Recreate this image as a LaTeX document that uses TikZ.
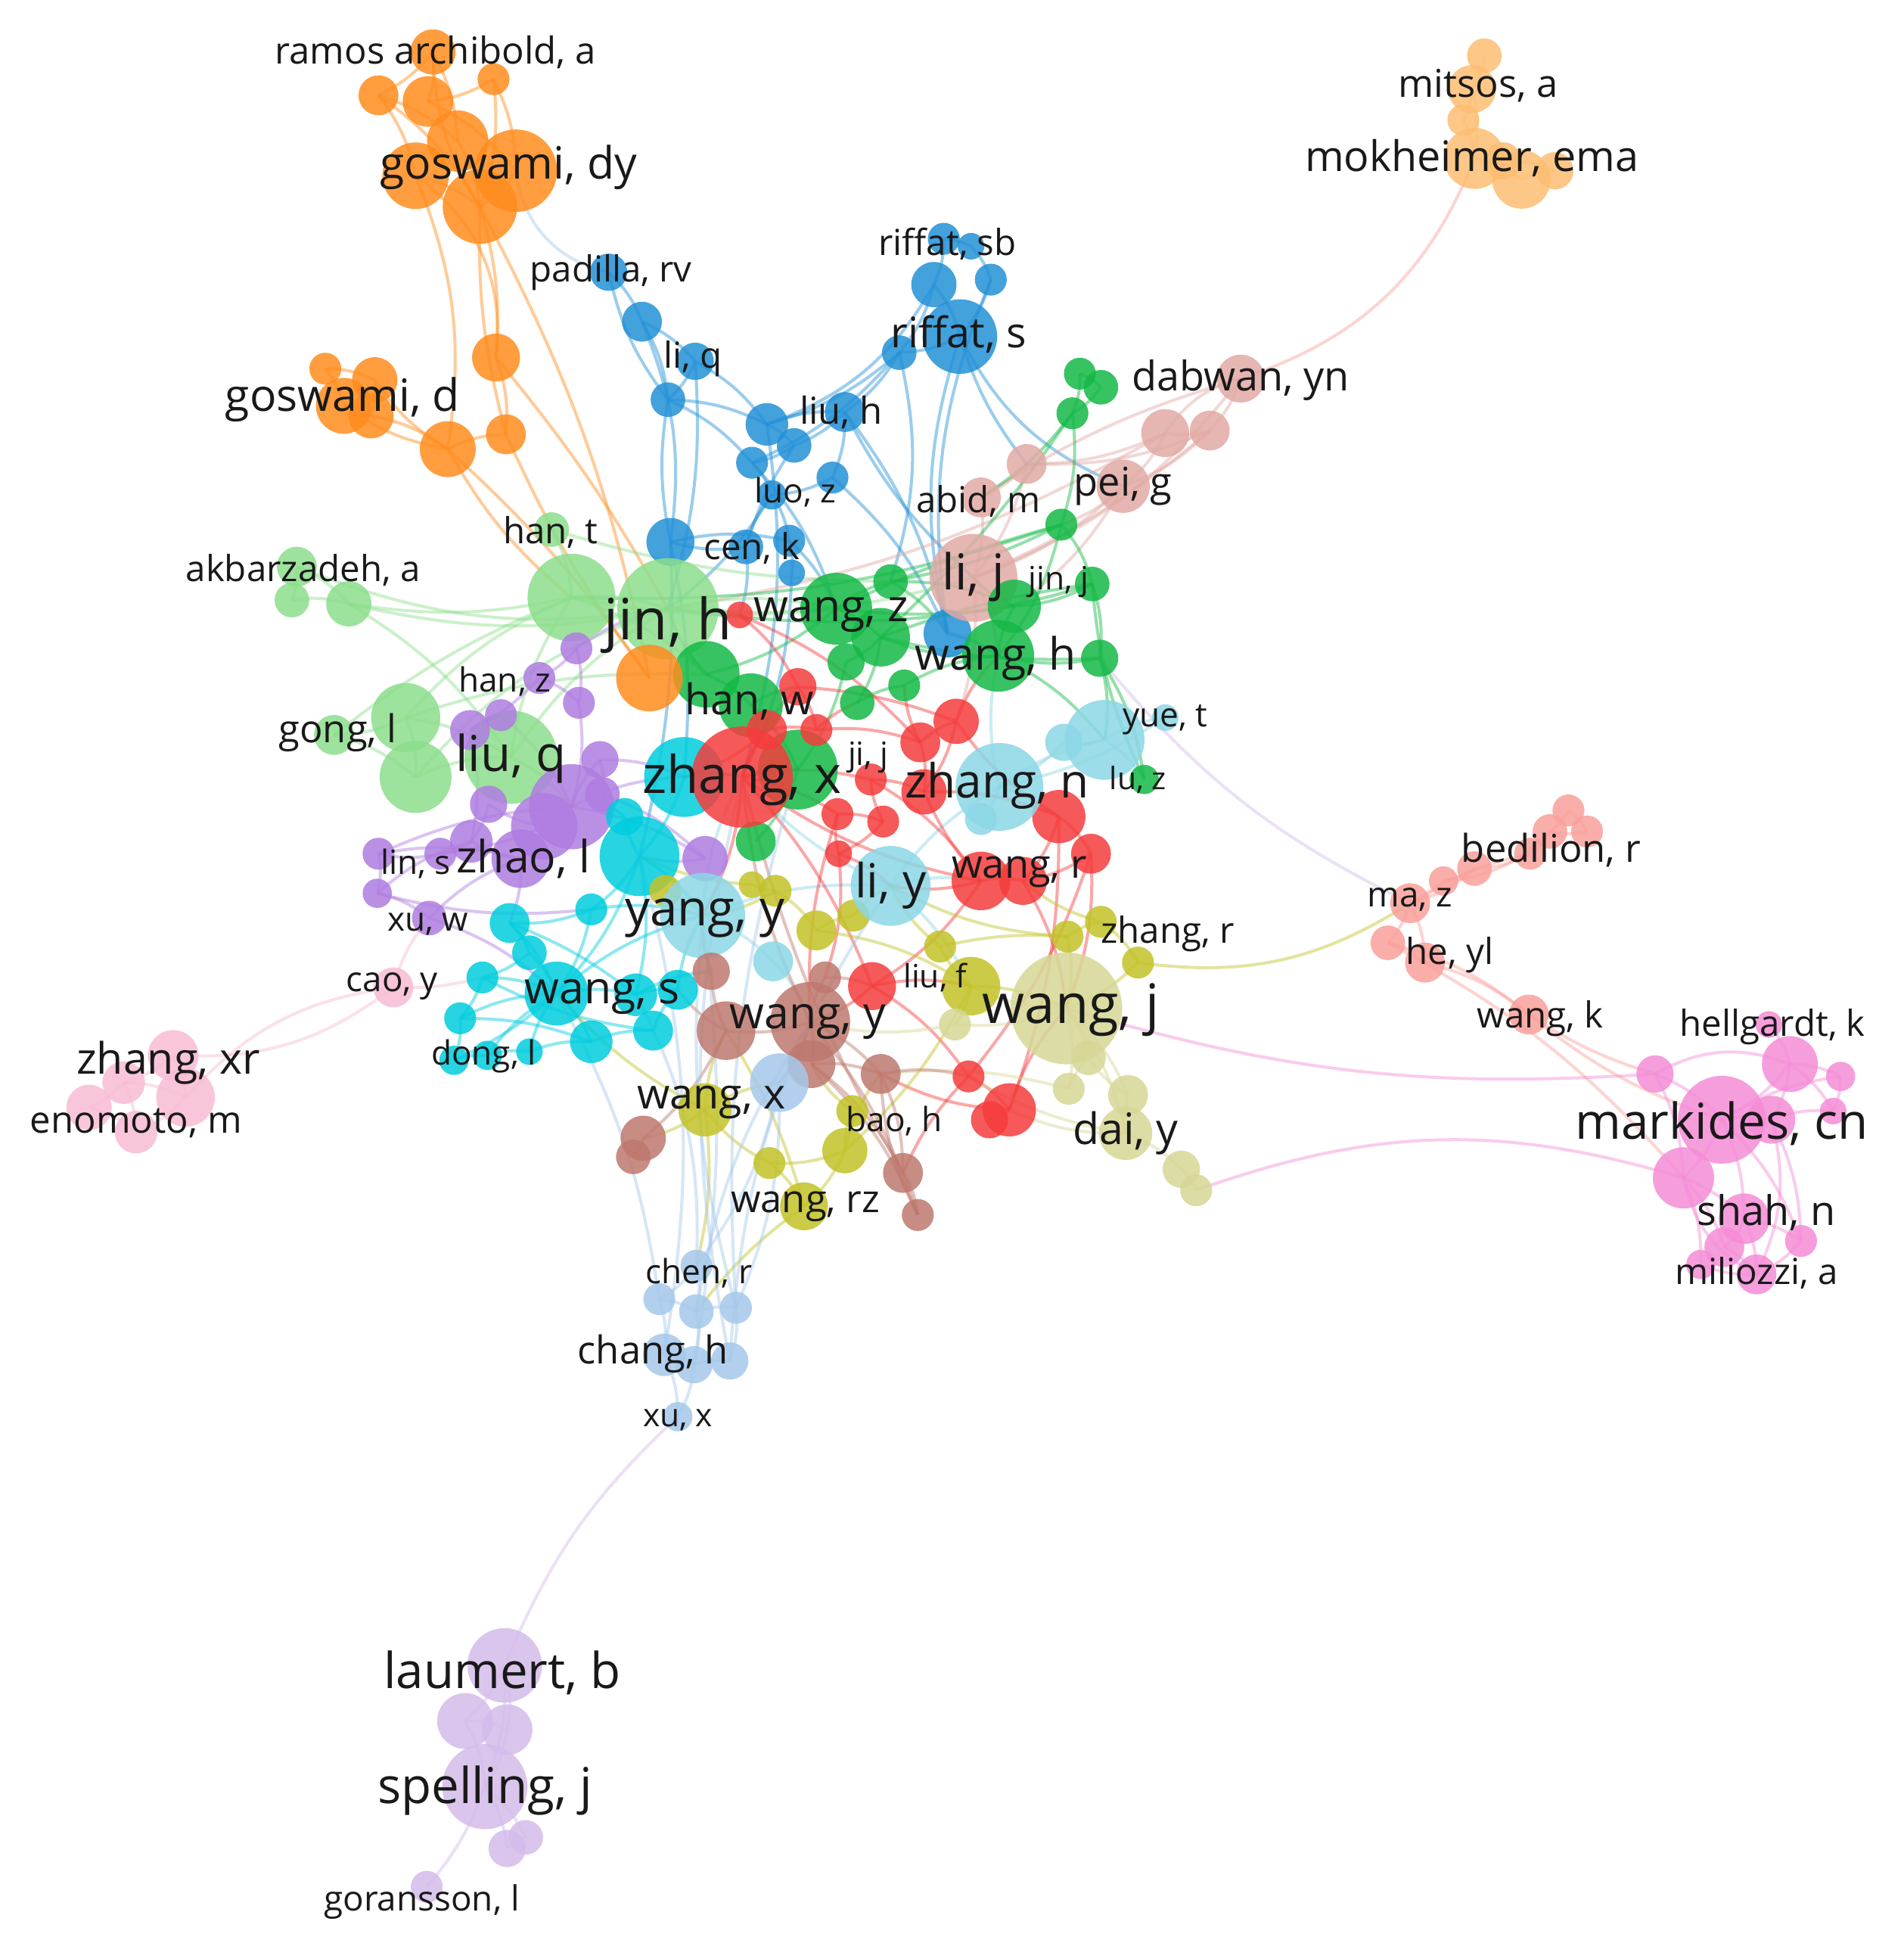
\documentclass[tikz,border=0pt]{standalone}
\usepackage{fontspec}
\setmainfont{Open Sans}
\pgfdeclarelayer{bglayer}
\pgfdeclarelayer{edgelayer}
\pgfsetlayers{bglayer,edgelayer,main}
\definecolor{cOr}{RGB}{255,140,30}
\definecolor{cPe}{RGB}{253,190,115}
\definecolor{cBl}{RGB}{35,145,215}
\definecolor{cGr}{RGB}{20,185,70}
\definecolor{cLg}{RGB}{140,222,140}
\definecolor{cPu}{RGB}{175,125,225}
\definecolor{cCy}{RGB}{0,205,222}
\definecolor{cLc}{RGB}{140,215,230}
\definecolor{cRd}{RGB}{245,60,60}
\definecolor{cOl}{RGB}{195,195,40}
\definecolor{cLo}{RGB}{215,215,150}
\definecolor{cBr}{RGB}{190,120,110}
\definecolor{cLb}{RGB}{165,200,235}
\definecolor{cSa}{RGB}{250,160,155}
\definecolor{cPk}{RGB}{245,140,215}
\definecolor{cLp}{RGB}{248,188,212}
\definecolor{cLv}{RGB}{212,188,235}
\definecolor{cRo}{RGB}{225,170,165}
\definecolor{cTx}{RGB}{25,25,25}
\tikzset{
  vnode/.style={circle,draw=none,inner sep=0pt,fill opacity=0.85},
  edge/.style={line width=0.7pt,draw opacity=0.45},
  lbl/.style={inner sep=0pt,text=cTx}
}
\newcommand\vn[5]{\node[vnode,fill=#5,minimum size=#4*0.0215cm] (#1) at (#2,-#3) {};}
\newcommand\E[4][12]{\draw[edge,draw=#4] (#2.center) to[bend left=#1] (#3.center);}
\newcommand\lab[5]{\node[lbl,font=\fontsize{\dimexpr #4pt*2845/10000\relax}{\dimexpr #4pt*3/10\relax}\selectfont] (#1) at (#2,-#3) {#5};}
\begin{document}
\begin{tikzpicture}[x=0.01cm,y=0.01cm]
\begin{pgfonlayer}{bglayer}
\fill[white] (0,0) rectangle (1539,-1568);
\end{pgfonlayer}
\useasboundingbox (0,0) rectangle (1539,-1568);
% ---------------- nodes ----------------
% orange
\vn{o1}{350}{42}{17}{cOr}\vn{o2}{399}{64}{12}{cOr}\vn{o3}{306}{77}{15}{cOr}
\vn{o4}{346}{82}{19}{cOr}\vn{o5}{370}{114}{23}{cOr}\vn{o6}{336}{142}{25}{cOr}
\vn{o7}{417}{138}{31}{cOr}\vn{o8}{388}{167}{28}{cOr}\vn{o9}{401}{289}{18}{cOr}
\vn{o10}{409}{351}{15}{cOr}\vn{o11}{362}{363}{21}{cOr}\vn{o12}{263}{298}{12}{cOr}
\vn{o13}{303}{307}{17}{cOr}\vn{o14}{278}{328}{21}{cOr}\vn{o15}{300}{336}{17}{cOr}
% peach
\vn{m1}{1200}{45}{13}{cPe}\vn{m2}{1190}{72}{18}{cPe}\vn{m3}{1183}{97}{12}{cPe}
\vn{m4}{1192}{128}{23}{cPe}\vn{m5}{1230}{145}{22}{cPe}\vn{m6}{1257}{138}{14}{cPe}
\vn{m7}{1215}{130}{14}{cPe}
% blue
\vn{b1}{763}{193}{12}{cBl}\vn{b2}{785}{199}{10}{cBl}\vn{b3}{801}{226}{12}{cBl}
\vn{b4}{755}{230}{17}{cBl}\vn{b5}{776}{272}{28}{cBl}\vn{b6}{727}{285}{13}{cBl}
\vn{b7}{492}{220}{14}{cBl}\vn{b8}{519}{260}{15}{cBl}\vn{b9}{562}{292}{14}{cBl}
\vn{b10}{540}{323}{13}{cBl}\vn{b11}{620}{343}{16}{cBl}\vn{b12}{683}{333}{15}{cBl}
\vn{b13}{642}{360}{13}{cBl}\vn{b14}{608}{374}{12}{cBl}\vn{b15}{673}{386}{12}{cBl}
\vn{b16}{624}{400}{11}{cBl}\vn{b17}{542}{438}{18}{cBl}\vn{b18}{638}{437}{12}{cBl}
\vn{b19}{640}{463}{10}{cBl}\vn{b20}{766}{512}{18}{cBl}\vn{b21}{603}{442}{13}{cBl}
% rose
\vn{q1}{1003}{306}{18}{cRo}\vn{q2}{978}{348}{15}{cRo}\vn{q3}{942}{350}{18}{cRo}
\vn{q4}{830}{375}{15}{cRo}\vn{q5}{908}{393}{20}{cRo}\vn{q6}{793}{402}{15}{cRo}
\vn{q7}{787}{467}{33}{cRo}
% light green
\vn{lg1}{240}{458}{15}{cLg}\vn{lg2}{236}{485}{13}{cLg}\vn{lg3}{282}{488}{17}{cLg}
\vn{lg4}{446}{428}{13}{cLg}\vn{lg5}{462}{483}{33}{cLg}\vn{lg6}{540}{492}{38}{cLg}
\vn{lg7}{328}{580}{26}{cLg}\vn{lg8}{270}{594}{15}{cLg}\vn{lg9}{336}{628}{27}{cLg}
\vn{lg10}{413}{612}{35}{cLg}
% purple
\vn{p1}{466}{524}{12}{cPu}\vn{p2}{436}{548}{12}{cPu}\vn{p3}{468}{568}{12}{cPu}
\vn{p4}{380}{590}{15}{cPu}\vn{p5}{405}{578}{12}{cPu}\vn{p6}{462}{652}{32}{cPu}
\vn{p7}{440}{668}{25}{cPu}\vn{p8}{421}{694}{22}{cPu}\vn{p9}{381}{680}{16}{cPu}
\vn{p10}{356}{690}{12}{cPu}\vn{p11}{306}{690}{12}{cPu}\vn{p12}{305}{722}{11}{cPu}
\vn{p13}{347}{742}{13}{cPu}\vn{p14}{485}{614}{14}{cPu}\vn{p15}{487}{642}{13}{cPu}
\vn{p16}{570}{694}{17}{cPu}\vn{p17}{395}{650}{14}{cPu}
% dark green
\vn{g1}{873}{302}{12}{cGr}\vn{g2}{890}{313}{13}{cGr}\vn{g3}{867}{334}{12}{cGr}
\vn{g4}{858}{424}{12}{cGr}\vn{g5}{883}{472}{13}{cGr}\vn{g6}{889}{532}{14}{cGr}
\vn{g7}{676}{492}{27}{cGr}\vn{g8}{712}{515}{22}{cGr}\vn{g9}{720}{470}{13}{cGr}
\vn{g10}{684}{535}{14}{cGr}\vn{g11}{807}{530}{27}{cGr}\vn{g12}{820}{490}{20}{cGr}
\vn{g13}{571}{545}{25}{cGr}\vn{g14}{607}{570}{24}{cGr}\vn{g15}{645}{622}{30}{cGr}
\vn{g16}{693}{568}{13}{cGr}\vn{g17}{731}{554}{12}{cGr}\vn{g18}{611}{680}{15}{cGr}
\vn{g19}{925}{630}{11}{cGr}
\vn{o16}{525}{548}{25}{cOr}
% cyan
\vn{c1}{553}{628}{30}{cCy}\vn{c2}{517}{692}{30}{cCy}\vn{c3}{478}{735}{12}{cCy}
\vn{c4}{412}{746}{15}{cCy}\vn{c5}{428}{770}{13}{cCy}\vn{c6}{390}{790}{12}{cCy}
\vn{c7}{372}{823}{12}{cCy}\vn{c8}{367}{857}{11}{cCy}\vn{c9}{394}{853}{11}{cCy}
\vn{c10}{428}{850}{10}{cCy}\vn{c11}{450}{803}{24}{cCy}\vn{c12}{514}{804}{16}{cCy}
\vn{c13}{548}{800}{15}{cCy}\vn{c14}{478}{842}{16}{cCy}\vn{c15}{528}{833}{15}{cCy}
\vn{c16}{505}{660}{14}{cCy}
% red
\vn{r1}{598}{497}{10}{cRd}\vn{r3}{645}{555}{14}{cRd}\vn{r4}{620}{590}{15}{cRd}
\vn{r5}{744}{600}{15}{cRd}\vn{r6}{773}{583}{17}{cRd}\vn{r7}{677}{658}{12}{cRd}
\vn{r8}{714}{664}{12}{cRd}\vn{r9}{678}{690}{10}{cRd}\vn{r10}{747}{640}{17}{cRd}
\vn{r11}{856}{660}{20}{cRd}\vn{r12}{882}{690}{15}{cRd}\vn{r13}{793}{712}{22}{cRd}
\vn{r14}{827}{712}{18}{cRd}\vn{r15}{705}{797}{18}{cRd}\vn{r16}{783}{870}{12}{cRd}
\vn{r17}{816}{897}{20}{cRd}\vn{r18}{800}{905}{14}{cRd}\vn{r19}{660}{590}{12}{cRd}
\vn{r20}{704}{630}{12}{cRd}
\vn{r2}{600}{628}{38}{cRd}
% olive
\vn{y1}{627}{720}{12}{cOl}\vn{y2}{608}{715}{10}{cOl}\vn{y3}{660}{752}{15}{cOl}
\vn{y4}{690}{740}{12}{cOl}\vn{y5}{863}{757}{12}{cOl}\vn{y6}{890}{745}{12}{cOl}
\vn{y7}{920}{778}{12}{cOl}\vn{y8}{785}{797}{22}{cOl}\vn{y9}{683}{930}{17}{cOl}
\vn{y10}{689}{898}{12}{cOl}\vn{y11}{622}{940}{12}{cOl}\vn{y12}{650}{975}{18}{cOl}
\vn{y13}{570}{897}{20}{cOl}\vn{y14}{538}{720}{12}{cOl}\vn{y15}{760}{765}{12}{cOl}
% light cyan
\vn{lc1}{568}{740}{32}{cLc}\vn{lc2}{720}{716}{30}{cLc}\vn{lc3}{808}{636}{33}{cLc}
\vn{lc4}{893}{598}{30}{cLc}\vn{lc5}{860}{600}{14}{cLc}\vn{lc6}{942}{580}{10}{cLc}
\vn{lc7}{793}{662}{12}{cLc}\vn{lc8}{625}{777}{15}{cLc}
% light olive
\vn{lo1}{862}{815}{42}{cLo}\vn{lo2}{910}{916}{20}{cLo}\vn{lo3}{912}{885}{15}{cLo}
\vn{lo4}{864}{880}{12}{cLo}\vn{lo5}{772}{828}{12}{cLo}\vn{lo6}{955}{945}{14}{cLo}
\vn{lo7}{967}{962}{12}{cLo}\vn{lo8}{880}{855}{13}{cLo}
% brown
\vn{w1}{655}{826}{30}{cBr}\vn{w2}{587}{833}{22}{cBr}\vn{w3}{712}{868}{15}{cBr}
\vn{w4}{730}{948}{15}{cBr}\vn{w5}{742}{982}{12}{cBr}\vn{w6}{520}{920}{17}{cBr}
\vn{w7}{512}{935}{13}{cBr}\vn{w8}{575}{785}{14}{cBr}\vn{w9}{656}{860}{18}{cBr}
\vn{w10}{667}{790}{12}{cBr}
% light blue
\vn{lb1}{630}{875}{22}{cLb}\vn{lb2}{563}{1023}{12}{cLb}\vn{lb3}{533}{1050}{12}{cLb}
\vn{lb4}{563}{1060}{13}{cLb}\vn{lb5}{595}{1057}{12}{cLb}\vn{lb6}{537}{1095}{16}{cLb}
\vn{lb7}{561}{1103}{14}{cLb}\vn{lb8}{590}{1100}{14}{cLb}\vn{lb9}{548}{1145}{11}{cLb}
% salmon
\vn{s1}{1268}{655}{12}{cSa}\vn{s2}{1283}{672}{12}{cSa}\vn{s3}{1253}{672}{13}{cSa}
\vn{s4}{1237}{690}{12}{cSa}\vn{s5}{1192}{702}{13}{cSa}\vn{s6}{1167}{712}{11}{cSa}
\vn{s7}{1140}{730}{15}{cSa}\vn{s8}{1122}{762}{13}{cSa}\vn{s9}{1152}{778}{15}{cSa}
\vn{s10}{1236}{820}{15}{cSa}
% magenta pink
\vn{k1}{1430}{828}{10}{cPk}\vn{k2}{1447}{860}{21}{cPk}\vn{k3}{1488}{870}{11}{cPk}
\vn{k4}{1482}{898}{10}{cPk}\vn{k5}{1338}{868}{14}{cPk}\vn{k6}{1392}{905}{33}{cPk}
\vn{k7}{1432}{905}{18}{cPk}\vn{k8}{1361}{952}{23}{cPk}\vn{k9}{1410}{985}{19}{cPk}
\vn{k10}{1394}{1008}{15}{cPk}\vn{k11}{1456}{1003}{12}{cPk}\vn{k12}{1420}{1030}{15}{cPk}
\vn{k13}{1375}{1022}{11}{cPk}
% light pink
\vn{x1}{140}{853}{19}{cLp}\vn{x2}{100}{875}{16}{cLp}\vn{x3}{150}{887}{22}{cLp}
\vn{x4}{72}{895}{17}{cLp}\vn{x5}{110}{915}{16}{cLp}\vn{x6}{318}{798}{15}{cLp}
% lavender
\vn{v1}{408}{1346}{28}{cLv}\vn{v2}{376}{1391}{21}{cLv}\vn{v3}{410}{1398}{19}{cLv}
\vn{v4}{392}{1444}{32}{cLv}\vn{v5}{410}{1494}{14}{cLv}\vn{v6}{425}{1485}{13}{cLv}
\vn{v7}{345}{1525}{12}{cLv}
% ---------------- edges ----------------
\begin{pgfonlayer}{edgelayer}
% orange
\E{o1}{o3}{cOr}\E{o1}{o4}{cOr}\E{o1}{o5}{cOr}\E{o2}{o4}{cOr}\E{o2}{o8}{cOr}
\E{o3}{o6}{cOr}\E{o3}{o8}{cOr}\E{o4}{o7}{cOr}\E{o5}{o8}{cOr}\E{o6}{o8}{cOr}
\E{o7}{o8}{cOr}\E{o3}{o5}{cOr}\E{o2}{o7}{cOr}\E[-15]{o1}{o8}{cOr}
\E[10]{o8}{o9}{cOr}\E[30]{o6}{o9}{cOr}\E[-8]{o8}{o10}{cOr}\E[15]{o6}{o11}{cOr}
\E{o9}{o10}{cOr}\E{o11}{o13}{cOr}\E{o11}{o14}{cOr}\E{o12}{o13}{cOr}\E{o12}{o14}{cOr}
\E{o13}{o15}{cOr}\E{o14}{o15}{cOr}\E{o11}{o10}{cOr}\E{o15}{o11}{cOr}
\E[8]{o8}{o16}{cOr}\E[-6]{o10}{o16}{cOr}\E[6]{o11}{o16}{cOr}\E[5]{o9}{lg6}{cOr}
\E[-10]{o11}{lg5}{cOr}\E[-35]{o7}{b7}{cLb}
% peach
\E{m1}{m2}{cPe}\E{m2}{m3}{cPe}\E{m3}{m4}{cPe}\E{m4}{m5}{cPe}\E{m4}{m7}{cPe}
\E{m5}{m6}{cPe}\E{m7}{m6}{cPe}\E{m2}{m4}{cPe}\E[-25]{q1}{m4}{cSa}
% blue
\E{b1}{b4}{cBl}\E{b2}{b3}{cBl}\E{b1}{b2}{cBl}\E{b4}{b5}{cBl}\E{b3}{b5}{cBl}
\E{b5}{b6}{cBl}\E{b4}{b6}{cBl}\E{b7}{b8}{cBl}\E{b8}{b9}{cBl}\E{b8}{b10}{cBl}
\E{b9}{b10}{cBl}\E{b9}{b11}{cBl}\E{b10}{b11}{cBl}\E[-10]{b10}{b17}{cBl}
\E{b11}{b12}{cBl}\E{b11}{b13}{cBl}\E{b12}{b13}{cBl}\E{b13}{b14}{cBl}
\E{b14}{b16}{cBl}\E{b15}{b16}{cBl}\E{b12}{b15}{cBl}\E{b6}{b12}{cBl}\E{b6}{b11}{cBl}
\E[20]{b4}{b11}{cBl}\E[-15]{b5}{b20}{cBl}\E[-10]{b5}{q4}{cBl}\E{b17}{b18}{cBl}
\E{b18}{b19}{cBl}\E{b16}{b18}{cBl}\E[15]{b8}{b17}{cBl}\E{b10}{b14}{cBl}
\E{b6}{b14}{cBl}\E{b12}{b20}{cBl}\E[10]{b9}{lg6}{cBl}\E{b11}{r2}{cBl}
\E{b14}{g7}{cBl}\E[8]{b17}{c1}{cBl}\E[-20]{b5}{q5}{cBl}\E{b20}{g11}{cBl}
\E{b19}{r2}{cBl}\E{b18}{g7}{cBl}\E{b21}{b17}{cBl}\E{b21}{b16}{cBl}\E{b21}{r1}{cBl}
\E[-12]{b7}{b10}{cBl}\E[15]{b6}{g9}{cBl}\E[-10]{b12}{q7}{cBl}\E{b15}{b20}{cBl}
\E[10]{b16}{lg6}{cBl}\E[-8]{b13}{b21}{cBl}\E[-15]{b3}{b20}{cBl}\E[8]{b17}{c2}{cBl}
% rose
\E{q1}{q2}{cRo}\E{q2}{q3}{cRo}\E{q3}{q5}{cRo}\E{q2}{q5}{cRo}\E{q3}{q4}{cRo}
\E{q4}{q6}{cRo}\E{q5}{q7}{cRo}\E{q6}{q7}{cRo}\E{q4}{q7}{cRo}\E[-20]{q1}{q3}{cRo}
\E{q5}{g4}{cRo}\E[10]{q3}{lg6}{cRo}\E[15]{q1}{q7}{cRo}\E{q2}{q4}{cRo}
\E{q7}{g11}{cRo}\E{q7}{r6}{cRo}\E[-8]{q1}{q6}{cRo}\E{q5}{g12}{cRo}\E[8]{q2}{q7}{cRo}
% dark green
\E{g1}{g2}{cGr}\E{g1}{g3}{cGr}\E{g2}{g3}{cGr}\E{g3}{g4}{cGr}\E{g4}{g5}{cGr}
\E{g5}{g6}{cGr}\E{g4}{g11}{cGr}\E{g5}{g12}{cGr}\E{g6}{g11}{cGr}\E{g7}{g8}{cGr}
\E{g7}{g9}{cGr}\E{g8}{g10}{cGr}\E{g9}{g12}{cGr}\E{g11}{g12}{cGr}\E{g7}{g13}{cGr}
\E{g13}{g14}{cGr}\E{g14}{g15}{cGr}\E{g8}{g16}{cGr}\E{g16}{g17}{cGr}\E{g17}{g11}{cGr}
\E{g13}{lg6}{cGr}\E{g15}{g18}{cGr}\E{g6}{g19}{cGr}\E[10]{g4}{lg5}{cGr}
\E{g5}{g7}{cGr}\E{g12}{q7}{cGr}\E{g11}{lc4}{cGr}\E{g9}{b20}{cGr}\E{g10}{g15}{cGr}
\E{g14}{r3}{cGr}\E[8]{g4}{g9}{cGr}\E[6]{g3}{g8}{cGr}\E[-6]{g5}{g8}{cGr}
\E[8]{g6}{g8}{cGr}\E{g6}{lc4}{cGr}\E[-5]{g4}{g7}{cGr}\E[10]{g3}{q6}{cGr}
\E[8]{g12}{lg6}{cGr}\E{g11}{g8}{cGr}\E[-10]{g5}{g19}{cGr}
% light green
\E{lg1}{lg2}{cLg}\E{lg1}{lg3}{cLg}\E{lg2}{lg3}{cLg}\E[-10]{lg3}{lg5}{cLg}
\E[-12]{lg3}{lg6}{cLg}\E{lg4}{lg5}{cLg}\E{lg5}{lg6}{cLg}\E{lg7}{lg8}{cLg}
\E{lg7}{lg9}{cLg}\E{lg8}{lg9}{cLg}\E{lg9}{lg10}{cLg}\E{lg7}{lg10}{cLg}
\E{lg10}{lg5}{cLg}\E{lg10}{lg6}{cLg}\E{lg7}{lg5}{cLg}\E[15]{lg9}{lg6}{cLg}
\E{lg3}{lg10}{cLg}\E{lg6}{r1}{cLg}\E{lg6}{g7}{cLg}\E{lg5}{g13}{cLg}
\E[-10]{lg6}{q7}{cLg}\E{lg10}{p6}{cLg}\E[-8]{lg5}{g7}{cLg}\E[-15]{lg1}{lg6}{cLg}
\E[8]{lg8}{lg5}{cLg}\E[-8]{lg4}{g9}{cLg}\E[10]{lg7}{g13}{cLg}
% purple
\E{p1}{p2}{cPu}\E{p1}{p3}{cPu}\E{p2}{p3}{cPu}\E{p3}{p6}{cPu}\E{p4}{p5}{cPu}
\E{p4}{p9}{cPu}\E{p5}{p6}{cPu}\E{p6}{p7}{cPu}\E{p7}{p8}{cPu}\E{p8}{p9}{cPu}
\E{p9}{p10}{cPu}\E{p10}{p11}{cPu}\E{p11}{p12}{cPu}\E{p12}{p13}{cPu}\E{p13}{p8}{cPu}
\E{p6}{p14}{cPu}\E{p14}{p15}{cPu}\E{p15}{p16}{cPu}\E{p6}{p16}{cPu}\E{p7}{p17}{cPu}
\E{p17}{p9}{cPu}\E{p8}{c4}{cPu}\E{p6}{c1}{cPu}\E{p11}{p8}{cPu}\E{p12}{p9}{cPu}
\E{p16}{c2}{cPu}\E{p14}{c1}{cPu}\E{p1}{lg6}{cPu}\E[10]{p11}{p6}{cPu}\E[-10]{p12}{c3}{cPu}
\E[10]{p2}{p4}{cPu}\E{p13}{c11}{cPu}\E[-8]{p10}{p7}{cPu}
% cyan
\E{c1}{c2}{cCy}\E{c2}{c3}{cCy}\E{c2}{c16}{cCy}\E{c3}{c4}{cCy}\E{c4}{c5}{cCy}
\E{c5}{c6}{cCy}\E{c6}{c7}{cCy}\E{c7}{c8}{cCy}\E{c8}{c9}{cCy}\E{c9}{c10}{cCy}
\E{c10}{c14}{cCy}\E{c11}{c12}{cCy}\E{c12}{c13}{cCy}\E{c11}{c14}{cCy}
\E{c14}{c15}{cCy}\E{c15}{c13}{cCy}\E{c5}{c11}{cCy}\E{c3}{c11}{cCy}\E{c6}{c11}{cCy}
\E{c2}{c11}{cCy}\E{c7}{c11}{cCy}\E{c9}{c11}{cCy}\E{c1}{r2}{cCy}\E{c2}{lc1}{cCy}
\E{c13}{lc1}{cCy}\E{c16}{p15}{cCy}\E{c11}{lc1}{cCy}\E{c12}{w8}{cCy}\E{c4}{c11}{cCy}
\E{c3}{lc1}{cCy}\E{c2}{c12}{cCy}\E[10]{c7}{c14}{cCy}\E[-10]{c6}{c15}{cCy}
\E[8]{c4}{c12}{cCy}\E{c10}{c11}{cCy}\E[-8]{c8}{c11}{cCy}
% light cyan
\E{lc1}{lc2}{cLc}\E{lc2}{lc3}{cLc}\E{lc3}{lc4}{cLc}\E{lc4}{lc5}{cLc}\E{lc4}{lc6}{cLc}
\E{lc3}{lc7}{cLc}\E{lc2}{r13}{cLc}\E{lc3}{r11}{cLc}\E{lc1}{lc8}{cLc}\E{lc8}{w1}{cLc}
\E{lc5}{lc3}{cLc}\E{lc4}{g19}{cLc}\E{lc2}{y8}{cLc}\E{lc3}{g11}{cLc}\E{lc1}{r2}{cLc}
\E{lc2}{r2}{cLc}\E[10]{lc6}{lc3}{cLc}
% red
\E{r1}{r3}{cRd}\E{r2}{r3}{cRd}\E{r2}{r4}{cRd}\E{r3}{r19}{cRd}\E{r4}{r19}{cRd}
\E{r5}{r6}{cRd}\E{r5}{r10}{cRd}\E{r6}{r10}{cRd}\E{r7}{r8}{cRd}\E{r8}{r9}{cRd}
\E{r9}{r7}{cRd}\E{r10}{r11}{cRd}\E{r11}{r12}{cRd}\E{r11}{r14}{cRd}\E{r13}{r14}{cRd}
\E{r12}{r14}{cRd}\E{r2}{r7}{cRd}\E{r2}{r20}{cRd}\E{r20}{r10}{cRd}\E{r13}{r15}{cRd}
\E{r15}{r16}{cRd}\E{r16}{r17}{cRd}\E{r17}{r18}{cRd}\E{r15}{w1}{cRd}\E{r13}{lc2}{cRd}
\E{r2}{g15}{cRd}\E{r5}{g17}{cRd}\E{r6}{g11}{cRd}\E{r19}{g16}{cRd}\E{r17}{lo1}{cRd}
\E{r14}{lo1}{cRd}\E{r15}{y8}{cRd}\E{r9}{lc2}{cRd}\E{r12}{lo1}{cRd}\E{r8}{r20}{cRd}
\E{r20}{r13}{cRd}\E{r11}{r6}{cRd}\E{r2}{lc1}{cRd}\E{r19}{r5}{cRd}\E{r4}{c1}{cRd}
\E{r17}{w3}{cRd}\E[10]{r2}{r15}{cRd}\E[-10]{r7}{w1}{cRd}\E[8]{r3}{r6}{cRd}
\E[-8]{r10}{r13}{cRd}\E[10]{r11}{r17}{cRd}\E[-12]{r2}{r13}{cRd}\E{r9}{w10}{cRd}
\E[12]{r1}{r5}{cRd}\E[-10]{r16}{w4}{cRd}\E[10]{r12}{r16}{cRd}
% olive
\E{y1}{y2}{cOl}\E{y1}{y3}{cOl}\E{y3}{y4}{cOl}\E{y4}{lc2}{cOl}\E{y5}{y6}{cOl}
\E{y6}{y7}{cOl}\E{y5}{lo1}{cOl}\E{y7}{lo1}{cOl}\E{y8}{lo1}{cOl}\E{y8}{y15}{cOl}
\E{y15}{lc2}{cOl}\E{y9}{y10}{cOl}\E{y9}{y11}{cOl}\E{y9}{y12}{cOl}\E{y11}{y12}{cOl}
\E{y10}{w9}{cOl}\E{y13}{w6}{cOl}\E{y13}{lb1}{cOl}\E[-8]{y12}{lb4}{cOl}
\E[10]{y13}{lb2}{cOl}\E{y11}{y13}{cOl}\E{y14}{lc1}{cOl}\E[-20]{y7}{s7}{cOl}
\E{y3}{y8}{cOl}\E{y8}{lo5}{cOl}\E{y13}{w2}{cOl}\E{y9}{w3}{cOl}\E{y1}{lc1}{cOl}
\E{y5}{lc2}{cOl}\E{y6}{r14}{cOl}\E[10]{y13}{c11}{cOl}\E[-8]{y12}{w2}{cOl}
\E[8]{y15}{y5}{cOl}\E[-10]{y9}{y8}{cOl}\E[10]{y2}{c2}{cOl}
% light olive
\E{lo1}{lo2}{cLo}\E{lo1}{lo3}{cLo}\E{lo1}{lo4}{cLo}\E{lo1}{lo5}{cLo}\E{lo1}{lo8}{cLo}
\E{lo2}{lo3}{cLo}\E{lo2}{lo6}{cLo}\E{lo6}{lo7}{cLo}\E{lo4}{lo8}{cLo}\E{lo3}{lo8}{cLo}
\E{lo5}{w1}{cLo}\E[-10]{lo1}{k5}{cPk}\E[18]{lo7}{k8}{cPk}\E{lo2}{r17}{cLo}
\E{lo1}{y8}{cLo}\E[-10]{lo4}{w3}{cLo}\E[10]{lo2}{r16}{cLo}
% brown
\E{w1}{w2}{cBr}\E{w1}{w9}{cBr}\E{w1}{w10}{cBr}\E{w2}{w8}{cBr}\E{w9}{w3}{cBr}
\E{w3}{w4}{cBr}\E{w4}{w5}{cBr}\E{w9}{w4}{cBr}\E{w9}{w5}{cBr}\E{w2}{w6}{cBr}
\E{w6}{w7}{cBr}\E{w1}{w3}{cBr}\E{w10}{r15}{cBr}\E{w8}{lc1}{cBr}\E{w1}{lb1}{cBr}
\E{w2}{c13}{cBr}\E{w5}{w3}{cBr}\E[10]{w1}{r2}{cBr}\E{w3}{r16}{cBr}\E[-10]{w5}{w1}{cBr}
\E[8]{w4}{r2}{cBr}
% light blue
\E{lb1}{lb2}{cLb}\E{lb1}{lb5}{cLb}\E{lb2}{lb3}{cLb}\E{lb2}{lb4}{cLb}\E{lb3}{lb4}{cLb}
\E{lb4}{lb5}{cLb}\E{lb3}{lb6}{cLb}\E{lb4}{lb7}{cLb}\E{lb5}{lb8}{cLb}\E{lb6}{lb7}{cLb}
\E{lb7}{lb8}{cLb}\E{lb6}{lb9}{cLb}\E{lb7}{lb9}{cLb}\E[-15]{lb2}{c12}{cLb}
\E[10]{lb5}{lc1}{cLb}\E[15]{lb8}{lc2}{cLb}\E[-12]{lb9}{v1}{cLv}\E{lb4}{w1}{cLb}
\E[-10]{lb3}{c11}{cLb}\E[12]{lb8}{r2}{cLb}\E[-12]{lb6}{c2}{cLb}\E[10]{lb5}{g15}{cLb}
\E[-8]{lb7}{lc1}{cLb}
% salmon
\E{s1}{s2}{cSa}\E{s1}{s3}{cSa}\E{s2}{s3}{cSa}\E{s3}{s4}{cSa}\E{s4}{s5}{cSa}
\E{s5}{s6}{cSa}\E{s6}{s7}{cSa}\E{s7}{s8}{cSa}\E{s7}{s9}{cSa}\E{s8}{s9}{cSa}
\E{s9}{s10}{cSa}\E{s8}{s10}{cSa}\E[-8]{s10}{k5}{cSa}\E[-10]{s10}{k6}{cSa}
\E[-12]{g6}{s7}{cLv}\E[10]{s8}{k8}{cSa}\E{s5}{s7}{cSa}\E[-10]{s4}{s7}{cSa}
\E[20]{s3}{s6}{cSa}
% magenta
\E{k1}{k2}{cPk}\E{k2}{k3}{cPk}\E{k3}{k4}{cPk}\E{k2}{k4}{cPk}\E{k2}{k6}{cPk}
\E{k2}{k7}{cPk}\E{k5}{k6}{cPk}\E{k6}{k7}{cPk}\E{k6}{k8}{cPk}\E{k7}{k4}{cPk}
\E{k8}{k9}{cPk}\E{k8}{k10}{cPk}\E{k9}{k10}{cPk}\E{k9}{k11}{cPk}\E{k10}{k12}{cPk}
\E{k12}{k13}{cPk}\E{k11}{k12}{cPk}\E{k6}{k9}{cPk}\E{k5}{k8}{cPk}\E{k6}{k11}{cPk}
\E{k7}{k11}{cPk}\E{k6}{k3}{cPk}\E{k9}{k12}{cPk}\E{k8}{k13}{cPk}\E[25]{k5}{k2}{cPk}
\E[-25]{k8}{k12}{cPk}\E[20]{k7}{k12}{cPk}
% light pink
\E{x1}{x2}{cLp}\E{x1}{x3}{cLp}\E{x2}{x4}{cLp}\E{x3}{x5}{cLp}\E{x4}{x5}{cLp}
\E{x2}{x5}{cLp}\E[-20]{x1}{x6}{cLp}\E[20]{x3}{x6}{cLp}\E{x6}{p13}{cLp}
\E[-8]{x6}{c6}{cLp}\E{x2}{x3}{cLp}
% lavender
\E{v1}{v2}{cLv}\E{v1}{v3}{cLv}\E{v2}{v3}{cLv}\E{v2}{v4}{cLv}\E{v3}{v4}{cLv}
\E{v4}{v5}{cLv}\E{v4}{v6}{cLv}\E{v5}{v6}{cLv}\E[10]{v4}{v7}{cLv}\E{v1}{v4}{cLv}
\end{pgfonlayer}
% ---------------- labels ----------------
\lab{t1}{352}{42}{30}{ramos archibold, a}
\lab{t2}{411}{135}{36}{goswami, dy}
\lab{t3}{1195}{69}{31}{mitsos, a}
\lab{t4}{1190}{128}{34}{mokheimer, ema}
\lab{t5}{766}{197}{29}{riffat, sb}
\lab{t6}{494}{220}{29}{padilla, rv}
\lab{t7}{775}{270}{34}{riffat, s}
\lab{t8}{560}{290}{29}{li, q}
\lab{t9}{277}{323}{36}{goswami, d}
\lab{t10}{1003}{307}{33}{dabwan, yn}
\lab{t11}{680}{333}{30}{liu, h}
\lab{t12}{643}{398}{27}{luo, z}
\lab{t13}{791}{405}{29}{abid, m}
\lab{t14}{908}{393}{32}{pei, g}
\lab{t15}{445}{430}{29}{han, t}
\lab{t16}{608}{443}{29}{cen, k}
\lab{t17}{245}{461}{29}{akbarzadeh, a}
\lab{t18}{787}{466}{40}{li, j}
\lab{t19}{856}{470}{26}{jin, j}
\lab{t20}{540}{505}{46}{jin, h}
\lab{t21}{672}{497}{36}{wang, z}
\lab{t22}{805}{532}{36}{wang, h}
\lab{t23}{408}{551}{27}{han, z}
\lab{t24}{606}{567}{34}{han, w}
\lab{t25}{273}{592}{31}{gong, l}
\lab{t26}{942}{582}{27}{yue, t}
\lab{t27}{413}{613}{40}{liu, q}
\lab{t28}{600}{630}{42}{zhang, x}
\lab{t29}{702}{612}{26}{ji, j}
\lab{t30}{806}{635}{38}{zhang, n}
\lab{t31}{920}{630}{25}{lu, z}
\lab{t32}{1254}{687}{31}{bedilion, r}
\lab{t33}{336}{698}{27}{lin, s}
\lab{t34}{423}{694}{36}{zhao, l}
\lab{t35}{720}{716}{38}{li, y}
\lab{t36}{824}{705}{32}{wang, r}
\lab{t37}{1140}{727}{28}{ma, z}
\lab{t38}{346}{747}{27}{xu, w}
\lab{t39}{570}{742}{40}{yang, y}
\lab{t40}{944}{755}{29}{zhang, r}
\lab{t41}{1172}{772}{29}{he, yl}
\lab{t42}{756}{790}{26}{liu, f}
\lab{t43}{317}{797}{28}{cao, y}
\lab{t44}{487}{806}{36}{wang, s}
\lab{t45}{866}{816}{44}{wang, j}
\lab{t46}{1245}{823}{29}{wang, k}
\lab{t47}{1433}{830}{29}{hellgardt, k}
\lab{t48}{653}{826}{36}{wang, y}
\lab{t49}{136}{859}{35}{zhang, xr}
\lab{t50}{391}{854}{27}{dong, l}
\lab{t51}{1392}{908}{40}{markides, cn}
\lab{t52}{110}{908}{30}{enomoto, m}
\lab{t53}{575}{891}{34}{wang, x}
\lab{t54}{723}{906}{27}{bao, h}
\lab{t55}{910}{916}{35}{dai, y}
\lab{t56}{651}{975}{31}{wang, rz}
\lab{t57}{1428}{980}{33}{shah, n}
\lab{t58}{1420}{1029}{29}{miliozzi, a}
\lab{t59}{565}{1029}{27}{chen, r}
\lab{t60}{528}{1094}{31}{chang, h}
\lab{t61}{548}{1148}{26}{xu, x}
\lab{t62}{406}{1352}{40}{laumert, b}
\lab{t63}{392}{1447}{40}{spelling, j}
\lab{t64}{341}{1537}{28}{goransson, l}
\end{tikzpicture}
\end{document}
